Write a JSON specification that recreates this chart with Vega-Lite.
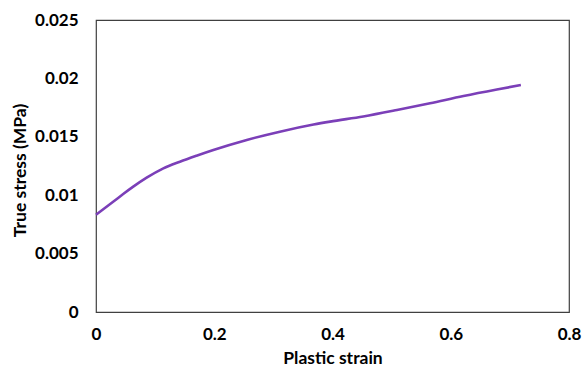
{
  "$schema": "https://vega.github.io/schema/vega-lite/v6.json",
  "width": 473,
  "height": 292,
  "autosize": {"type": "none"},
  "padding": {"left": 96, "top": 20, "right": 15, "bottom": 56},
  "background": "white",
  "config": {
    "view": {"stroke": "#404040", "strokeWidth": 1.2},
    "axis": {
      "labelFont": "Lato",
      "labelFontWeight": "bold",
      "labelFontSize": 17,
      "labelColor": "#000000",
      "titleFont": "Lato",
      "titleFontWeight": "bold",
      "titleFontSize": 17.5,
      "titleColor": "#000000",
      "grid": false,
      "domain": false,
      "ticks": false
    }
  },
  "data": {
    "values": [
      {"strain": 0.0, "stress": 0.00833},
      {"strain": 0.029, "stress": 0.00944},
      {"strain": 0.046, "stress": 0.01010},
      {"strain": 0.063, "stress": 0.01073},
      {"strain": 0.0857, "stress": 0.01150},
      {"strain": 0.1139, "stress": 0.01230},
      {"strain": 0.142, "stress": 0.01287},
      {"strain": 0.170, "stress": 0.01338},
      {"strain": 0.1985, "stress": 0.01387},
      {"strain": 0.255, "stress": 0.01473},
      {"strain": 0.311, "stress": 0.01544},
      {"strain": 0.368, "stress": 0.01605},
      {"strain": 0.396, "stress": 0.01630},
      {"strain": 0.452, "stress": 0.01674},
      {"strain": 0.509, "stress": 0.01729},
      {"strain": 0.565, "stress": 0.01787},
      {"strain": 0.6215, "stress": 0.01849},
      {"strain": 0.678, "stress": 0.01905},
      {"strain": 0.7186, "stress": 0.01943}
    ]
  },
  "mark": {"type": "line", "color": "#7B3FB8", "strokeWidth": 2.6, "interpolate": "monotone"},
  "encoding": {
    "x": {
      "field": "strain",
      "type": "quantitative",
      "scale": {"domain": [0, 0.8], "nice": false, "zero": true},
      "axis": {
        "title": "Plastic strain",
        "values": [0, 0.2, 0.4, 0.6, 0.8],
        "format": "~g",
        "labelPadding": 14,
        "labelFlush": false,
        "titleX": 236.5,
        "titleY": 46,
        "titleBaseline": "middle"
      }
    },
    "y": {
      "field": "stress",
      "type": "quantitative",
      "scale": {"domain": [0, 0.025], "nice": false},
      "axis": {
        "title": "True stress (MPa)",
        "values": [0, 0.005, 0.01, 0.015, 0.02, 0.025],
        "format": "~g",
        "labelPadding": 18,
        "titleX": -76,
        "titleY": 150,
        "titleBaseline": "middle",
        "titleAngle": 270
      }
    }
  }
}
